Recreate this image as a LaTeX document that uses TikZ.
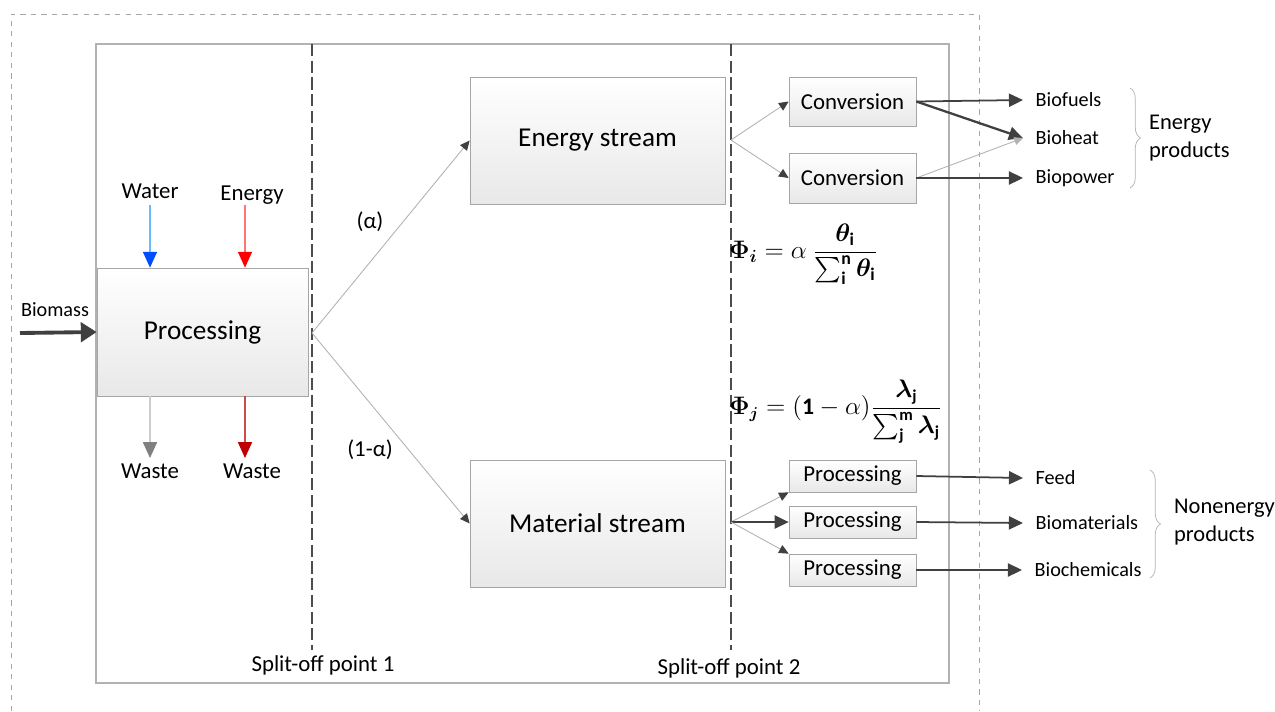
\documentclass[tikz,border=0pt]{standalone}
\usepackage{fontspec}
\setmainfont{Carlito}
\usepackage{amsmath,bm}
\usetikzlibrary{arrows.meta,decorations.pathreplacing,positioning}
\newcommand{\lbl}{\fontsize{13}{15}\selectfont}
\newcommand{\prodtxt}{\fontsize{11.5}{13}\selectfont}
\newcommand{\boxtxt}{\fontsize{13}{15}\selectfont}
\newcommand{\bigtxt}{\fontsize{15.5}{18}\selectfont}
\newcommand{\grouptxt}{\fontsize{12.8}{15.5}\selectfont}

\begin{document}
\begin{tikzpicture}[x=0.02cm,y=-0.02cm,
    stagebox/.style={draw=gray!70,top color=white,bottom color=gray!18,
      inner sep=0pt,font=\bigtxt},
    unitbox/.style={draw=gray!70,top color=white,bottom color=gray!18,
      inner sep=0pt,font=\boxtxt},
    lbl/.style={font=\lbl,inner sep=1pt},
    prod/.style={font=\prodtxt,inner ysep=1pt,inner xsep=7pt,anchor=west},
    thin arr/.style={draw=gray!60,line width=0.5pt,
      -{Triangle[length=5.5pt,width=5pt,color=black!75]}},
    prod arr/.style={draw=black!75,line width=1pt,
      -{Triangle[length=8pt,width=7.5pt]}},
    splitline/.style={draw=black!70,line width=0.9pt,dash pattern=on 7pt off 2.5pt},
    brc/.style={draw=gray!60,decorate,decoration={brace,amplitude=6pt}}]
  \useasboundingbox (0,0) rectangle (1275,711);
  % frames
  \draw[gray!70,dashed,line width=0.5pt] (11,711) -- (11,14) -- (979,14) -- (979,711);
  \draw[gray!60,line width=0.8pt] (96,44) rectangle (949,683);
  \draw[splitline] (312,44) -- (312,650);
  \draw[splitline] (731,44) -- (731,650);
  \node[lbl] (split1) at (323,665) {Split-off point 1};
  \node[lbl] (split2) at (729,668) {Split-off point 2};

  % processing
  \node[stagebox,minimum width=211*0.02cm,minimum height=128*0.02cm] (proc) at (202.5,332) {Processing};
  \node[lbl] (water) at (150,191) {Water};
  \node[lbl] (energy) at (252,195) {Energy};
  \node[lbl] (waste1) at (150,471) {Waste};
  \node[lbl] (waste2) at (252,471) {Waste};
  \node[lbl,font=\prodtxt] (biomass) at (55,310) {Biomass};
  \coordinate (bmin) at (20,333);
  \coordinate (win) at (150,205);
  \coordinate (ein) at (245,205);
  \coordinate (wout) at (150,458);
  \coordinate (eout) at (245,458);
  \draw[draw=blue!45!cyan!60,line width=0.6pt,-{Triangle[length=9pt,width=8pt,color=blue!70!cyan]}]
    (win) -- (win |- proc.north);
  \draw[draw=red!55,line width=0.6pt,-{Triangle[length=9pt,width=8pt,color=red]}]
    (ein) -- (ein |- proc.north);
  \draw[draw=gray!40,line width=0.8pt,-{Triangle[length=9pt,width=8pt,color=gray]}]
    (wout |- proc.south) -- (wout);
  \draw[draw=red!70!black!70,line width=0.6pt,-{Triangle[length=9pt,width=8pt,color=red!75!black]}]
    (eout |- proc.south) -- (eout);
  \draw[black!75,line width=2.2pt,-{Triangle[length=9pt,width=11pt]}] (bmin) -- (proc.west);

  % streams
  \node[stagebox,minimum width=255*0.02cm,minimum height=127*0.02cm] (estream) at (597.5,140.5) {Energy stream};
  \node[stagebox,minimum width=255*0.02cm,minimum height=127*0.02cm] (mstream) at (597.5,523.5) {Material stream};
  \coordinate (split) at (312,333);
  \draw[thin arr] (split) -- (estream.west);
  \draw[thin arr] (split) -- (mstream.west);
  \node[lbl,font=\boxtxt] (alpha) at (370,222) {(α)};
  \node[lbl,font=\boxtxt] (onealpha) at (370,450) {(1-α)};

  % energy side
  \node[unitbox,minimum width=127*0.02cm,minimum height=49*0.02cm] (conv1) at (852.5,101.5) {Conversion};
  \node[unitbox,minimum width=127*0.02cm,minimum height=50*0.02cm] (conv2) at (852.5,178) {Conversion};
  \coordinate (esplit) at (731,140);
  \draw[thin arr] (esplit) -- (conv1.west);
  \draw[thin arr] (esplit) -- (conv2.west);
  \node[prod] (biofuels) at (1023,100) {Biofuels};
  \node[prod] (bioheat) at (1023,138) {Bioheat};
  \node[prod] (biopower) at (1023,178) {Biopower};
  \draw[prod arr] (conv1.east) -- (biofuels.west);
  \draw[prod arr,line width=1.3pt] (conv1.east) -- (bioheat.west);
  \draw[thin arr,-{Triangle[length=5pt,width=4.5pt,color=gray!60]}] (conv2.east) -- (bioheat.west);
  \draw[prod arr] (conv2.east) -- (biopower.west);
  \draw[brc] (1130,88) -- (1130,188);
  \node[font=\grouptxt,inner sep=1pt,align=left,anchor=west] (eprod) at (1147,138) {Energy\\products};

  % formulas
  \node[anchor=west,font=\fontsize{14.5}{18}\selectfont,inner sep=1pt] (phii) at (727,254)
    {$\bm{\Phi}_{\bm{i}} = \alpha\ \dfrac{\bm{\theta}_{\mathbf{i}}}{\sum_{\mathbf{i}}^{\mathbf{n}}\bm{\theta}_{\mathbf{i}}}$};
  \node[anchor=west,font=\fontsize{13.5}{17}\selectfont,inner sep=1pt] (phij) at (727,412)
    {$\bm{\Phi}_{\bm{j}} = (\mathbf{1}-\alpha)\dfrac{\bm{\lambda}_{\mathbf{j}}}{\sum_{\mathbf{j}}^{\mathbf{m}}\bm{\lambda}_{\mathbf{j}}}$};

  % material side
  \node[unitbox,minimum width=127*0.02cm,minimum height=32*0.02cm] (proc1) at (852.5,476) {Processing};
  \node[unitbox,minimum width=127*0.02cm,minimum height=32*0.02cm] (proc2) at (852.5,522) {Processing};
  \node[unitbox,minimum width=127*0.02cm,minimum height=32*0.02cm] (proc3) at (852.5,570) {Processing};
  \coordinate (msplit) at (731,522);
  \draw[thin arr] (msplit) -- (proc1.south west);
  \draw[prod arr,line width=1.3pt] (msplit) -- (proc2.west);
  \draw[thin arr] (msplit) -- (proc3.north west);
  \node[prod] (feed) at (1023,478) {Feed};
  \node[prod] (biomat) at (1023,523) {Biomaterials};
  \node[prod] (biochem) at (1022,570) {Biochemicals};
  \draw[prod arr] (proc1.east) -- (feed.west);
  \draw[prod arr] (proc2.east) -- (biomat.west);
  \draw[prod arr] (proc3.east) -- (biochem.west);
  \draw[brc] (1150,470) -- (1150,578);
  \node[font=\grouptxt,inner sep=1pt,align=left,anchor=west] (nprod) at (1172,522) {Nonenergy\\products};
\end{tikzpicture}
\end{document}
